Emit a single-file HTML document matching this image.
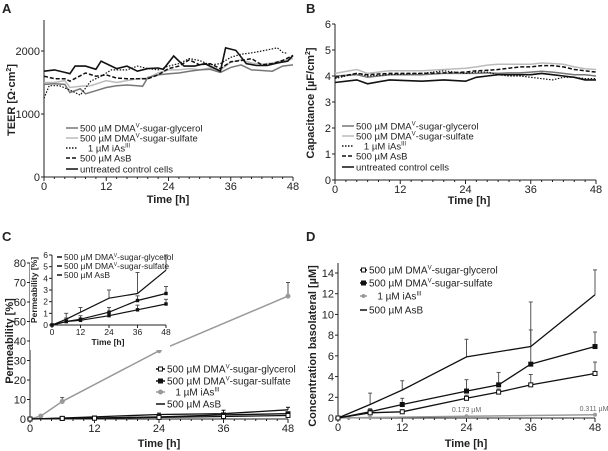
<!DOCTYPE html>
<html><head><meta charset="utf-8"><style>
html,body{margin:0;padding:0;background:#fff;}
svg{display:block;font-family:"Liberation Sans",sans-serif;}
</style></head><body>
<svg id="fig" width="608" height="451" viewBox="0 0 608 451"></svg>
<script>
// ---- Panel A data (TEER) ----
const aCtrlT=[0,2,4,5,6,8,10,11,14,16,18,20,22,23,25,27,29,31,33,34,35,37,39,41,43,45,47,48];
const aCtrlV=[1680,1700,1660,1640,1760,1760,1710,1840,1720,1760,1680,1720,1730,1710,1920,1760,1760,1800,1720,1680,2050,2010,1800,1770,1770,1810,1840,1930];
const aAsbT=[0,2,4,5,8,10,12,14,16,20,22,24,26,28,30,32,34,36,38,40,42,44,46,48];
const aAsbV=[1600,1560,1560,1520,1650,1600,1620,1570,1560,1560,1620,1720,1760,1860,1780,1800,1720,1830,1850,1880,1780,1800,1850,1930];
const aIasT=[0,1,3,5,7,9,11,13,16,18,20,22,24,26,28,30,32,34,36,38,40,42,45,46,47];
const aIasV=[1250,1450,1450,1380,1300,1520,1600,1700,1700,1760,1720,1700,1760,1800,1880,1850,1780,1800,1900,1950,1970,2000,2050,1980,1960];
const aGlyT=[0,2,4,5,7,8,10,12,14,16,18,19,20,22,24,26,28,30,32,34,36,38,40,42,44,46,48];
const aGlyV=[1470,1480,1470,1340,1400,1320,1370,1420,1450,1460,1450,1440,1580,1620,1640,1650,1680,1700,1710,1660,1740,1780,1700,1690,1680,1760,1780];
const aSulT=[0,2,4,5,7,9,12,14,16,18,20,22,24,26,28,30,32,34,36,38,40,42,44,46,48];
const aSulV=[1500,1500,1530,1420,1440,1450,1530,1500,1530,1560,1570,1650,1700,1700,1720,1700,1730,1700,1820,1860,1810,1790,1810,1850,1880];
// ---- Panel B data (capacitance) ----
const bT=[0,4,6,10,16,20,24,26,28,30,32,34,36,38,40,42,44,46,48];
const bGly=[4.0,4.05,3.95,4.05,4.05,4.1,4.1,4.1,4.12,4.1,4.12,4.12,4.15,4.18,4.15,4.1,4.05,4.05,4.0];
const bSul=[4.1,4.25,4.1,4.2,4.2,4.25,4.3,4.35,4.42,4.45,4.45,4.45,4.45,4.5,4.48,4.45,4.35,4.28,4.25];
const bIas=[3.9,4.1,4.0,4.05,4.1,4.2,4.1,4.15,4.15,4.05,4.0,4.0,3.95,3.9,3.85,3.95,3.95,3.9,3.9];
const bAsb=[3.95,4.1,4.05,4.1,4.1,4.12,4.15,4.2,4.22,4.25,4.3,4.35,4.35,4.4,4.4,4.35,4.25,4.2,4.15];
const bCtl=[3.75,3.85,3.7,3.85,3.8,3.85,3.8,3.95,4.0,4.05,4.05,4.05,4.05,4.1,4.05,4.0,3.95,3.85,3.85];
// ---- Panel C data (permeability) ----
const cT=[0,2,6,24,48];
const cIas=[0,1.5,9,35,63];
const cIasErr=[0,2,11,41,70];
const cTs=[0,6,12,24,36,48];
const cGly=[0,0.3,0.4,0.8,1.3,1.8];
const cSul=[0,0.3,0.5,1.1,2.1,2.7];
const cAsb=[0,0.5,1.1,2.3,2.7,4.7];
const cGlyErr=[0,0.5,0.6,1.0,1.7,2.2];
const cSulErr=[0,0.6,0.8,1.5,2.5,3.3];
const cAsbErr=[0,1.0,1.5,3.0,4.5,6.0];
// ---- Panel D data (basolateral concentration) ----
const dT=[0,6,12,24,30,36,48];
const dGly=[0,0.5,0.6,1.9,2.5,3.2,4.3];
const dGlyErr=[0,0.7,0.8,2.2,2.8,4.2,5.4];
const dSul=[0,0.6,1.3,2.6,3.2,5.2,6.9];
const dSulErr=[0,0.9,1.9,3.7,4.4,8.5,8.3];
const dAsbT=[0,6,12,24,36,48];
const dAsb=[0,1.3,2.7,5.9,6.9,11.9];
const dAsbErr=[0,2.4,3.6,7.6,11.2,14.3];
const dIasT=[0,2,6,24,48];
const dIas=[0,0.03,0.05,0.173,0.311];
const xTicks=[0,12,24,36,48];

const NS="http://www.w3.org/2000/svg";
const svg=document.getElementById('fig');
function mk(tag,attrs,parent){const e=document.createElementNS(NS,tag);for(const k in attrs)e.setAttribute(k,attrs[k]);(parent||svg).appendChild(e);return e;}
function txt(x,y,s,size,opts,name){opts=opts||{};const t=mk('text',{x:x,y:y,'font-size':size,fill:opts.fill||'#222','text-anchor':opts.anchor||'start','font-weight':opts.bold?'bold':'normal'});if(opts.rot)t.setAttribute('transform','rotate(-90 '+x+' '+y+')');t.innerHTML=s;


return t;}
function scale(d0,d1,r0,r1){return v=>r0+(v-d0)*(r1-r0)/(d1-d0);}
function axes(X,Y,x0,x1,y0,y1,yTicks,yFmt,minor,fs,pfx){
  const ax=mk('line',{x1:x0,y1:y0,x2:x1,y2:y0,stroke:'#222','stroke-width':1});
  
  
  const ay=mk('line',{x1:x0,y1:y0,x2:x0,y2:y1,stroke:'#222','stroke-width':1});
  
  
  for(let t=0;t<=48;t+=minor){mk('line',{x1:X(t),y1:y0,x2:X(t),y2:y0+(t%12===0?4:2),stroke:'#222','stroke-width':1});}
  xTicks.forEach(t=>txt(X(t),y0+fs+2,t,fs,{anchor:'middle'},pfx+'-x-tick'));
  yTicks.forEach(v=>{mk('line',{x1:x0-3,y1:Y(v),x2:x0,y2:Y(v),stroke:'#222'});txt(x0-4,Y(v)+fs*0.36,yFmt(v),fs,{anchor:'end'},pfx+'-y-tick');});
}
function line(X,Y,ts,vs,stroke,w,dash,name){const d=ts.map((t,i)=>(i?'L':'M')+X(t).toFixed(1)+','+Y(vs[i]).toFixed(1)).join('');const p=mk('path',{d:d,fill:'none',stroke:stroke,'stroke-width':w});if(dash)p.setAttribute('stroke-dasharray',dash);


return p;}
function errs(X,Y,ts,vs,es,col){ts.forEach((t,i)=>{if(es[i]>vs[i]){mk('line',{x1:X(t),y1:Y(vs[i]),x2:X(t),y2:Y(es[i]),stroke:col,'stroke-width':1});mk('line',{x1:X(t)-2,y1:Y(es[i]),x2:X(t)+2,y2:Y(es[i]),stroke:col,'stroke-width':1});}});}
function marks(X,Y,ts,vs,type,col,r,name){ts.forEach((t,i)=>{let m;if(type==='sq'||type==='osq')m=mk('rect',{x:X(t)-r,y:Y(vs[i])-r,width:2*r,height:2*r,fill:type==='osq'?'#fff':col,stroke:col,'stroke-width':1});else m=mk('circle',{cx:X(t),cy:Y(vs[i]),r:r,fill:col});

});}

const GLY='#777',SUL='#bbb',BLK='#111';
// ===== Panel A =====
txt(2,13,'A',13,{bold:true},'panel-a-label');
{const X=scale(0,48,44,293),Y=scale(0,2000,177,51);
 axes(X,Y,44,293,177,20,[0,1000,2000],v=>v,2,11,'a');
 line(X,Y,aSulT,aSulV,SUL,1.5,null,'a-line-sulfate');
 line(X,Y,aGlyT,aGlyV,GLY,1.5,null,'a-line-glycerol');
 line(X,Y,aIasT,aIasV,BLK,1.2,'1.5,1.5','a-line-ias');
 line(X,Y,aAsbT,aAsbV,BLK,1.5,'4,2','a-line-asb');
 line(X,Y,aCtrlT,aCtrlV,BLK,1.6,null,'a-line-control');
 txt(168,203,'Time [h]',11,{bold:true,anchor:'middle'},'a-x-axis-title');
 txt(15,100,'TEER [Ω·cm<tspan font-size="7" dy="-4">2</tspan><tspan dy="4">]</tspan>',11,{bold:true,anchor:'middle',rot:true},'a-y-axis-title');
 const L=[[GLY,null,'500 µM DMA<tspan font-size="6" dy="-4">V</tspan><tspan dy="4">-sugar-glycerol</tspan>',128],[SUL,null,'500 µM DMA<tspan font-size="6" dy="-4">V</tspan><tspan dy="4">-sugar-sulfate</tspan>',138],[BLK,'1.5,1.5','&#160;&#160;&#160;1 µM iAs<tspan font-size="6" dy="-4">III</tspan>',148],[BLK,'4,2','500 µM AsB',158],[BLK,null,'untreated control cells',169]];
 L.forEach((l,i)=>{const ln=mk('line',{x1:66,y1:l[3],x2:78,y2:l[3],stroke:l[0],'stroke-width':1.5});if(l[1])ln.setAttribute('stroke-dasharray',l[1]);txt(80,l[3]+3.5,l[2],9.5,{},'a-legend-entry');});
}
// ===== Panel B =====
txt(306,13,'B',13,{bold:true},'panel-b-label');
{const X=scale(0,48,335,596),Y=scale(0,6,180,24);
 axes(X,Y,335,596,180,24,[0,1,2,3,4,5,6],v=>v,2,11,'b');
 line(X,Y,bT,bSul,SUL,1.5,null,'b-line-sulfate');
 line(X,Y,bT,bGly,GLY,1.5,null,'b-line-glycerol');
 line(X,Y,bT,bIas,BLK,1.2,'1.5,1.5','b-line-ias');
 line(X,Y,bT,bAsb,BLK,1.5,'4,2','b-line-asb');
 line(X,Y,bT,bCtl,BLK,1.6,null,'b-line-control');
 txt(469,204,'Time [h]',11,{bold:true,anchor:'middle'},'b-x-axis-title');
 txt(314,103,'Capacitance [µF/cm<tspan font-size="7" dy="-4">2</tspan><tspan dy="4">]</tspan>',11,{bold:true,anchor:'middle',rot:true},'b-y-axis-title');
 const L=[[GLY,null,'500 µM DMA<tspan font-size="6" dy="-4">V</tspan><tspan dy="4">-sugar-glycerol</tspan>',126],[SUL,null,'500 µM DMA<tspan font-size="6" dy="-4">V</tspan><tspan dy="4">-sugar-sulfate</tspan>',136],[BLK,'1.5,1.5','&#160;&#160;&#160;1 µM iAs<tspan font-size="6" dy="-4">III</tspan>',146],[BLK,'4,2','500 µM AsB',156],[BLK,null,'untreated control cells',167]];
 L.forEach(l=>{const ln=mk('line',{x1:342,y1:l[3],x2:354,y2:l[3],stroke:l[0],'stroke-width':1.5});if(l[1])ln.setAttribute('stroke-dasharray',l[1]);txt(356,l[3]+3.5,l[2],9.5,{},'b-legend-entry');});
}
// ===== Panel C =====
txt(2,241,'C',13,{bold:true},'panel-c-label');
{const X=scale(0,48,30,288),Y=scale(0,80,419,263);
 axes(X,Y,30,288,419,263,[0,10,20,30,40,50,60,70,80],v=>v,2,11,'c');
 errs(X,Y,cT,cIas,cIasErr,'#555');
 line(X,Y,cT,cIas,'#999',1.5,null,'c-line-ias');marks(X,Y,cT,cIas,'c','#999',2.5,'c-point-ias');
 errs(X,Y,cTs,cAsb,cAsbErr,BLK);
 line(X,Y,cTs,cAsb,BLK,1.3,null,'c-line-asb');
 line(X,Y,cTs,cSul,BLK,1.3,null,'c-line-sulfate');marks(X,Y,cTs,cSul,'sq',BLK,2,'c-point-sulfate');
 line(X,Y,cTs,cGly,BLK,1.3,null,'c-line-glycerol');marks(X,Y,cTs,cGly,'osq',BLK,2,'c-point-glycerol');
 txt(159,447,'Time [h]',11,{bold:true,anchor:'middle'},'c-x-axis-title');
 txt(13,341,'Permeability [%]',11,{bold:true,anchor:'middle',rot:true},'c-y-axis-title');
 const L=[['osq',BLK,'500 µM DMA<tspan font-size="6" dy="-4">V</tspan><tspan dy="4">-sugar-glycerol</tspan>',369],['sq',BLK,'500 µM DMA<tspan font-size="6" dy="-4">V</tspan><tspan dy="4">-sugar-sulfate</tspan>',381],['c','#999','&#160;&#160;&#160;1 µM iAs<tspan font-size="6" dy="-4">III</tspan>',392],['n',BLK,'500 µM AsB',404]];
 L.forEach(l=>{mk('line',{x1:156,y1:l[3],x2:165,y2:l[3],stroke:l[1],'stroke-width':1.5});if(l[0]==='sq'||l[0]==='osq')mk('rect',{x:158.5,y:l[3]-2,width:4,height:4,fill:l[0]==='osq'?'#fff':BLK,stroke:BLK});if(l[0]==='c')mk('circle',{cx:160.5,cy:l[3],r:2.5,fill:'#999'});txt(167,l[3]+3.5,l[2],10,{},'c-legend-entry');});
 // inset
 const IX=scale(0,48,52,166),IY=scale(0,6,325,255);
 mk('rect',{x:30,y:250,width:140,height:100,fill:'#fff'});
 const iax=mk('line',{x1:52,y1:325,x2:166,y2:325,stroke:'#222'});
 
 
 const iay=mk('line',{x1:52,y1:325,x2:52,y2:255,stroke:'#222'});
 
 
 xTicks.forEach(t=>{mk('line',{x1:IX(t),y1:325,x2:IX(t),y2:328,stroke:'#222'});txt(IX(t),335,t,8.5,{anchor:'middle'},'inset-x-tick');});
 [0,1,2,3,4,5,6].forEach(v=>{mk('line',{x1:49,y1:IY(v),x2:52,y2:IY(v),stroke:'#222'});txt(48,IY(v)+3,v,8.5,{anchor:'end'},'inset-y-tick');});
 errs(IX,IY,cTs,cAsb,cAsbErr,'#555');errs(IX,IY,cTs,cSul,cSulErr,'#555');errs(IX,IY,cTs,cGly,cGlyErr,'#555');
 line(IX,IY,cTs,cAsb,BLK,1.2,null,'inset-line-asb');
 line(IX,IY,cTs,cSul,BLK,1.2,null,'inset-line-sulfate');marks(IX,IY,cTs,cSul,'sq',BLK,1.2,'inset-point-sulfate');
 line(IX,IY,cTs,cGly,BLK,1.2,null,'inset-line-glycerol');marks(IX,IY,cTs,cGly,'sq',BLK,1.2,'inset-point-glycerol');
 txt(108,345,'Time [h]',8.5,{bold:true,anchor:'middle'},'inset-x-axis-title');
 txt(37,290,'Permeability [%]',8.5,{bold:true,anchor:'middle',rot:true},'inset-y-axis-title');
 [['500 µM DMA<tspan font-size="5" dy="-3">V</tspan><tspan dy="3">-sugar-glycerol</tspan>',257],['500 µM DMA<tspan font-size="5" dy="-3">V</tspan><tspan dy="3">-sugar-sulfate</tspan>',266],['500 µM AsB',275]].forEach(l=>{mk('line',{x1:57,y1:l[1],x2:62,y2:l[1],stroke:BLK,'stroke-width':1.5});txt(64,l[1]+3,l[0],8.5,{},'inset-legend-entry');});
}
// ===== Panel D =====
txt(306,241,'D',13,{bold:true},'panel-d-label');
{const X=scale(0,48,338,595),Y=scale(0,14,418,273);
 axes(X,Y,338,595,418,263,[0,2,4,6,8,10,12,14],v=>v,2,11,'d');
 errs(X,Y,dAsbT,dAsb,dAsbErr,'#555');errs(X,Y,dT,dSul,dSulErr,'#555');errs(X,Y,dT,dGly,dGlyErr,'#555');
 line(X,Y,dIasT,dIas,'#999',1.5,null,'d-line-ias');marks(X,Y,dIasT,dIas,'c','#999',2,'d-point-ias');
 line(X,Y,dAsbT,dAsb,BLK,1.3,null,'d-line-asb');
 line(X,Y,dT,dSul,BLK,1.3,null,'d-line-sulfate');marks(X,Y,dT,dSul,'sq',BLK,2,'d-point-sulfate');
 line(X,Y,dT,dGly,BLK,1.3,null,'d-line-glycerol');marks(X,Y,dT,dGly,'osq',BLK,2,'d-point-glycerol');
 txt(X(24),Y(dIas[3])-4,'0.173 µM',7,{anchor:'middle',fill:'#666'},'d-annotation-24h');
 txt(X(48)-1,Y(dIas[4])-4,'0.311 µM',7,{anchor:'middle',fill:'#666'},'d-annotation-48h');
 txt(466,447,'Time [h]',11,{bold:true,anchor:'middle'},'d-x-axis-title');
 txt(316,346,'Concentration basolateral [µM]',11,{bold:true,anchor:'middle',rot:true},'d-y-axis-title');
 const L=[['osq',BLK,'500 µM DMA<tspan font-size="6" dy="-4">V</tspan><tspan dy="4">-sugar-glycerol</tspan>',270],['sq',BLK,'500 µM DMA<tspan font-size="6" dy="-4">V</tspan><tspan dy="4">-sugar-sulfate</tspan>',283],['c','#999','&#160;&#160;&#160;1 µM iAs<tspan font-size="6" dy="-4">III</tspan>',296],['n',BLK,'500 µM AsB',310]];
 L.forEach(l=>{mk('line',{x1:360,y1:l[3],x2:367,y2:l[3],stroke:l[1],'stroke-width':1.5});if(l[0]==='sq'||l[0]==='osq')mk('rect',{x:361.5,y:l[3]-2,width:4,height:4,fill:l[0]==='osq'?'#fff':BLK,stroke:BLK});if(l[0]==='c')mk('circle',{cx:363.5,cy:l[3],r:2,fill:'#999'});txt(369,l[3]+3.5,l[2],10,{},'d-legend-entry');});
}
</script>
</body></html>
